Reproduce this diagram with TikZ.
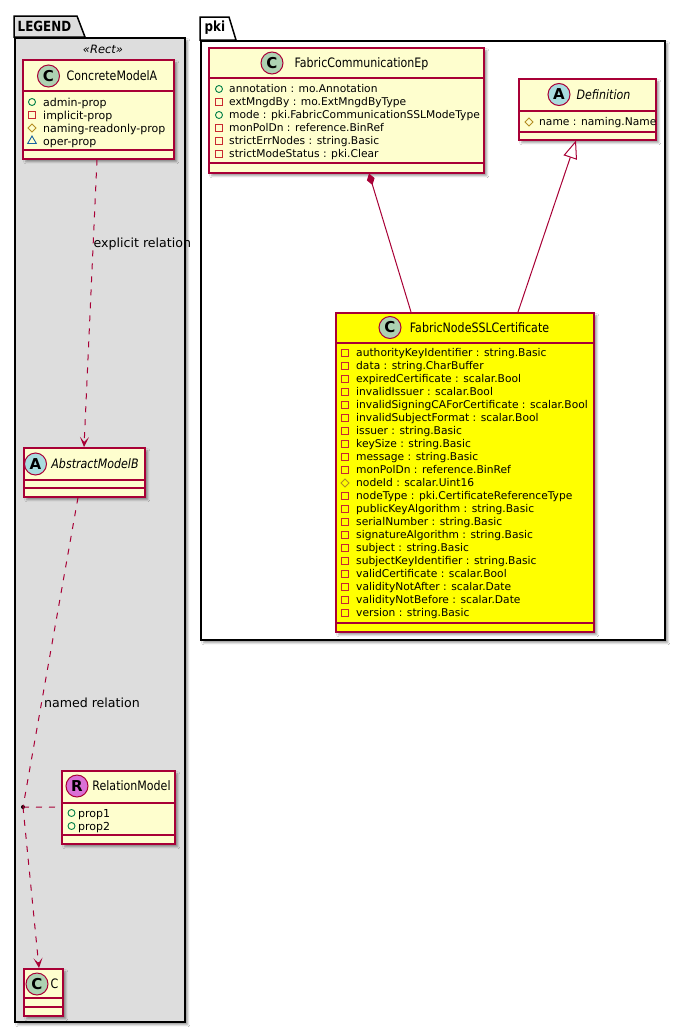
\documentclass[tikz,border=0pt]{standalone}
\usepackage{fontspec}
\setmainfont{DejaVu Sans}
\newfontfamily\ttlfont[FakeStretch=0.85]{DejaVu Sans}
\usetikzlibrary{shadows.blur,arrows.meta,shapes.geometric}
\definecolor{clsfill}{HTML}{FEFECE}
\definecolor{clsline}{HTML}{A80036}
\definecolor{cgreen}{HTML}{ADD1B2}
\definecolor{ablue}{HTML}{A9DCDF}
\definecolor{rpink}{HTML}{DA70D6}
\definecolor{pubc}{HTML}{038048}
\definecolor{privc}{HTML}{C82930}
\definecolor{protc}{HTML}{B38D22}
\definecolor{pkgc}{HTML}{1963A0}
\definecolor{legendfill}{HTML}{DDDDDD}
\definecolor{sslfill}{HTML}{FFFF00}
\begin{document}
\begin{tikzpicture}[x=1pt,y=-1pt,
  shad/.style={blur shadow={shadow xshift=3pt,shadow yshift=-3pt,shadow blur radius=2pt,shadow opacity=40}},
  pkgbox/.style={rectangle, draw=black, line width=1.5pt, inner sep=0, anchor=north west, shad},
  pkgline/.style={draw=black, line width=1.5pt},
  pkgtitle/.style={font=\ttlfont\bfseries\fontsize{14}{14}\selectfont, inner sep=0, anchor=west},
  cls/.style={rectangle, draw=clsline, line width=1.5pt, fill=clsfill, inner sep=0, anchor=north west, shad},
  sep/.style={draw=clsline, line width=1.5pt},
  ttl/.style={font=\ttlfont\fontsize{13}{13}\selectfont, inner sep=0, text height=9.5pt, text depth=0pt},
  circ/.style={circle, draw=clsline, line width=1pt, minimum size=22pt, inner sep=0, font=\bfseries\fontsize{15}{15}\selectfont},
  attr/.style={font=\fontsize{10.7}{10.7}\selectfont, inner sep=0, anchor=base west},
  lattr/.style={font=\fontsize{11}{11}\selectfont, inner sep=0, anchor=base west},
  vpub/.style={circle, draw=pubc, line width=0.9pt, minimum size=7pt, inner sep=0},
  vpriv/.style={rectangle, draw=privc, line width=0.9pt, minimum size=6.5pt, inner sep=0},
  vprot/.style={diamond, draw=protc, line width=0.9pt, minimum size=8.5pt, inner sep=0},
  vpkg/.style={regular polygon, regular polygon sides=3, draw=pkgc, line width=0.9pt, minimum size=10pt, inner sep=0},
  rel/.style={draw=clsline, line width=1pt},
  dsh/.style={dash pattern=on 6pt off 7pt},
  lbl/.style={font=\fontsize{12.6}{12.6}\selectfont, inner sep=0, anchor=west},
  openarrow/.style={-{Stealth[length=10pt,width=9pt,inset=5pt]}}
]
\useasboundingbox (0,0) rectangle (685,1034);
\fill[white] (0,0) rectangle (685,1034);

% ---------- LEGEND package ----------
\node[pkgbox, fill=legendfill, minimum width=170pt, minimum height=984pt] (legend) at (14,37) {};
\draw[pkgline, fill=legendfill] (14,37) -- (14,16) -- (77,16) -- (85,37) -- cycle;
\node[pkgtitle] (legend-t) at (17.5,26.5) {LEGEND};
\node[font=\itshape\fontsize{11.5}{11.5}\selectfont, inner sep=0] (rect-st) at (103,49) {«Rect»};

% ---------- pki package ----------
\node[pkgbox, fill=white, minimum width=464pt, minimum height=599pt] (pki) at (200,40) {};
\draw[pkgline, fill=white] (200,40) -- (200,17) -- (229,17) -- (236,40) -- cycle;
\node[pkgtitle] (pki-t) at (204.5,28) {pki};

% ---------- ConcreteModelA ----------
\node[cls, minimum width=151pt, minimum height=99pt] (cma) at (22,59) {};
\draw[sep] (22,91) -- (173,91);
\draw[sep] (22,150) -- (173,150);
\node[circ, fill=cgreen] (cma-c) at (48.5,76) {C};
\node[ttl] (cma-t) at (112,76) {ConcreteModelA};
\foreach \t/\s [count=\i from 0] in {pub/admin-prop, priv/implicit-prop, prot/naming-readonly-prop, pkg/oper-prop}{
  \node[v\t] (cma-i\i) at (32,{102+13*\i}) {};
  \node[lattr] (cma-a\i) at (43,{106+13*\i}) {\s};
}

% ---------- AbstractModelB ----------
\node[cls, minimum width=121pt, minimum height=49pt] (amb) at (23,447) {};
\draw[sep] (23,480) -- (144,480);
\draw[sep] (23,488) -- (144,488);
\node[circ, fill=ablue] (amb-c) at (35.5,464) {A};
\node[ttl, font=\ttlfont\itshape\fontsize{13}{13}\selectfont] (amb-t) at (95,464) {AbstractModelB};

% ---------- RelationModel ----------
\node[cls, minimum width=113pt, minimum height=73pt] (rm) at (61,770) {};
\draw[sep] (61,803) -- (174,803);
\draw[sep] (61,835) -- (174,835);
\node[circ, fill=rpink] (rm-c) at (77,786) {R};
\node[ttl] (rm-t) at (131.5,786) {RelationModel};
\foreach \t/\s [count=\i from 0] in {pub/prop1, pub/prop2}{
  \node[v\t] (rm-i\i) at (71.5,{813+13*\i}) {};
  \node[lattr] (rm-a\i) at (78,{817+13*\i}) {\s};
}

% ---------- C ----------
\node[cls, minimum width=39pt, minimum height=47pt] (cc) at (23,968) {};
\draw[sep] (23,998) -- (62,998);
\draw[sep] (23,1007) -- (62,1007);
\node[circ, fill=cgreen] (cc-c) at (37,984) {C};
\node[ttl] (cc-t) at (54.5,984) {C};

% ---------- FabricCommunicationEp ----------
\node[cls, minimum width=275pt, minimum height=125pt] (fce) at (208,47) {};
\draw[sep] (208,78) -- (483,78);
\draw[sep] (208,163) -- (483,163);
\node[circ, fill=cgreen] (fce-c) at (272,63) {C};
\node[ttl] (fce-t) at (361.5,63) {FabricCommunicationEp};
\foreach \t/\s [count=\i from 0] in {pub/annotation : mo.Annotation, priv/extMngdBy : mo.ExtMngdByType, pub/mode : pki.FabricCommunicationSSLModeType, priv/monPolDn : reference.BinRef, priv/strictErrNodes : string.Basic, priv/strictModeStatus : pki.Clear}{
  \node[v\t] (fce-i\i) at (219,{89+13*\i}) {};
  \node[attr] (fce-a\i) at (229,{92.8+13*\i}) {\s};
}

% ---------- Definition ----------
\node[cls, minimum width=137pt, minimum height=61pt] (def) at (518,78) {};
\draw[sep] (518,111) -- (655,111);
\draw[sep] (518,132) -- (655,132);
\node[circ, fill=ablue] (def-c) at (559,94.5) {A};
\node[ttl, font=\ttlfont\itshape\fontsize{13}{13}\selectfont] (def-t) at (603.5,94.5) {Definition};
\node[vprot] (def-i0) at (529,122) {};
\node[attr] (def-a0) at (539,125.8) {name : naming.Name};

% ---------- FabricNodeSSLCertificate ----------
\node[cls, fill=sslfill, minimum width=258pt, minimum height=319pt] (fns) at (335,312) {};
\draw[sep] (335,343) -- (593,343);
\draw[sep] (335,623) -- (593,623);
\node[circ, fill=cgreen] (fns-c) at (390,327.5) {C};
\node[ttl] (fns-t) at (479.5,327.5) {FabricNodeSSLCertificate};
\foreach \t/\s [count=\i from 0] in {priv/authorityKeyIdentifier : string.Basic, priv/data : string.CharBuffer, priv/expiredCertificate : scalar.Bool, priv/invalidIssuer : scalar.Bool, priv/invalidSigningCAForCertificate : scalar.Bool, priv/invalidSubjectFormat : scalar.Bool, priv/issuer : string.Basic, priv/keySize : string.Basic, priv/message : string.Basic, priv/monPolDn : reference.BinRef, prot/nodeId : scalar.Uint16, priv/nodeType : pki.CertificateReferenceType, priv/publicKeyAlgorithm : string.Basic, priv/serialNumber : string.Basic, priv/signatureAlgorithm : string.Basic, priv/subject : string.Basic, priv/subjectKeyIdentifier : string.Basic, priv/validCertificate : scalar.Bool, priv/validityNotAfter : scalar.Date, priv/validityNotBefore : scalar.Date, priv/version : string.Basic}{
  \node[v\t] (fns-i\i) at (345,{353+13*\i}) {};
  \node[attr] (fns-a\i) at (356,{356.8+13*\i}) {\s};
}

% ---------- relations: pki ----------
\draw[rel, {Diamond[length=12pt,width=8pt,fill=clsline]}-] ([xshift=161pt]fce.south west) -- ([xshift=76pt]fns.north west);
\draw[rel, -{Triangle[open,length=18pt,width=14pt,fill=white]}] ([xshift=183pt]fns.north west) -- ([xshift=58pt]def.south west);

% ---------- relations: legend ----------
\draw[rel, dsh, openarrow] ([xshift=75pt]cma.south west) -- node[lbl, pos=0.294] (lbl-exp) {explicit relation} ([xshift=61pt]amb.north west);
\node[circle, fill=black, inner sep=0, minimum size=4pt] (jn) at (23,807) {};
\draw[rel, dsh] ([xshift=55pt]amb.south west) -- node[lbl, pos=0.662, xshift=2pt] (lbl-named) {named relation} (jn.center);
\draw[rel, dsh, openarrow] (jn.center) -- ([xshift=16pt]cc.north west);
\draw[rel, dsh] (jn.center) -- (rm.west);
\end{tikzpicture}
\end{document}
